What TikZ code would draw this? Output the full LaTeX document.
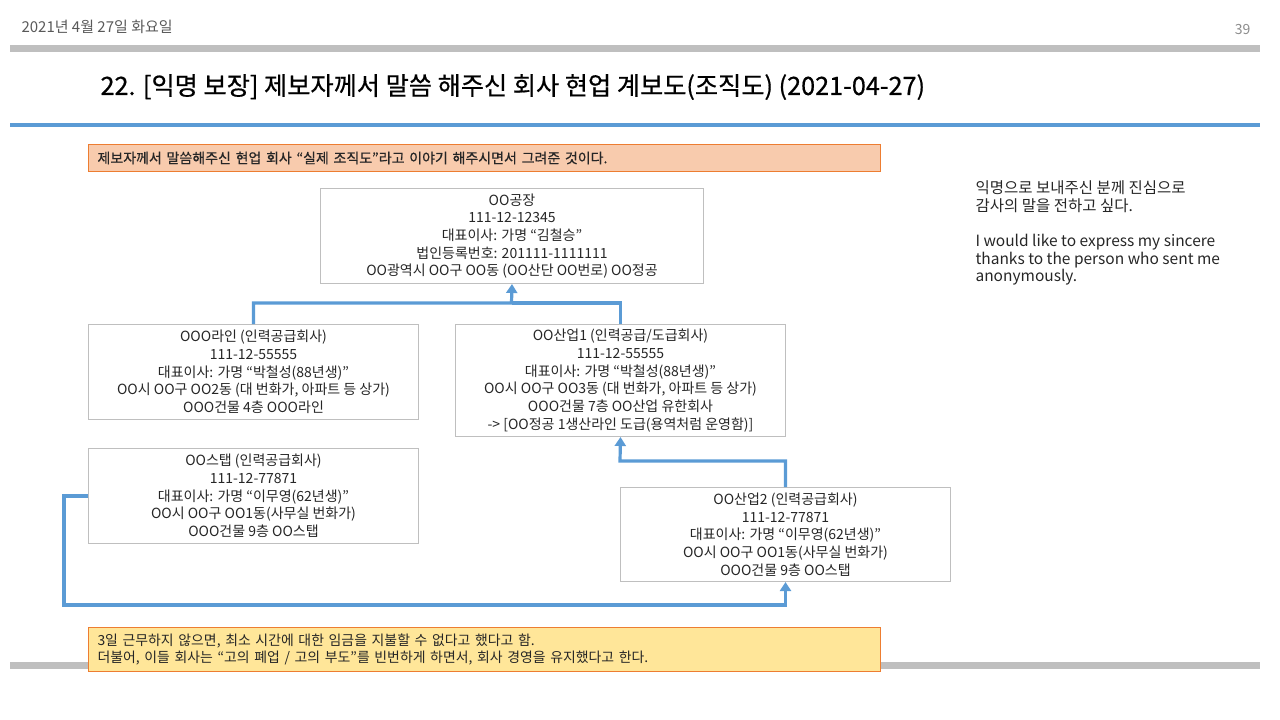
\documentclass[tikz,border=0pt]{standalone}
\usepackage{fontspec}
\setmainfont{Noto Sans CJK KR}
\newfontfamily\krmed[FakeBold=0.6]{Noto Sans CJK KR}
\usetikzlibrary{arrows.meta,positioning}
\definecolor{barblue}{HTML}{5B9BD5}
\definecolor{bargray}{HTML}{BFBFBF}
\definecolor{peach}{HTML}{F8CBAD}
\definecolor{ember}{HTML}{ED7D31}
\definecolor{butter}{HTML}{FFE699}
\definecolor{ink}{HTML}{262626}

\begin{document}
\begin{tikzpicture}[
      x=1pt, y=-1pt,
      corp/.style={rectangle, draw=bargray, line width=1pt, fill=white,
                   text=ink, minimum width=330pt, minimum height=95pt,
                   inner sep=0pt, anchor=north west, align=center,
                   font=\fontsize{14}{17.7}\selectfont},
      memo/.style={rectangle, draw=ember, line width=1pt, anchor=north west,
                   text width=774pt, inner xsep=9pt, align=left, text=ink},
      link/.style={-{Triangle[width=11pt,length=9pt]}, line width=3.2pt, color=barblue},
      wire/.style={line width=3.2pt, color=barblue}
    ]
      \useasboundingbox (0,0) rectangle (1280,720);
      % header
      \node[anchor=west, text=black!65, font=\fontsize{15}{17}\selectfont] (date) at (18,27) {2021년 4월 27일 화요일};
      \node[anchor=east, text=black!45, font=\fontsize{14}{16}\selectfont] (page) at (1254,30) {39};
      \fill[bargray] (10,45) rectangle (1260,52);
      \node[anchor=west, text=black, font=\krmed\fontsize{25.2}{29}\selectfont] (title) at (97,87)
        {22. [익명 보장] 제보자께서 말씀 해주신 회사 현업 계보도(조직도) (2021-04-27)};
      \fill[barblue] (10,123) rectangle (1260,127);
      \fill[bargray] (10,662) rectangle (1260,669);

      % notes
      \node[memo, fill=peach, minimum height=27pt, font=\krmed\fontsize{14}{17}\selectfont] (intro) at (88,144)
        {제보자께서 말씀해주신 현업 회사 “실제 조직도”라고 이야기 해주시면서 그려준 것이다.};
      \node[memo, fill=butter, minimum height=44pt, font=\fontsize{13.9}{17}\selectfont] (outro) at (88,627)
        {3일 근무하지 않으면, 최소 시간에 대한 임금을 지불할 수 없다고 했다고 함.\\
         더불어, 이들 회사는 “고의 폐업 / 고의 부도”를 빈번하게 하면서, 회사 경영을 유지했다고 한다.};
      \node[anchor=north west, align=left, text=ink, font=\fontsize{15.5}{17.7}\selectfont] (thanks) at (972,177)
        {익명으로 보내주신 분께 진심으로\\ 감사의 말을 전하고 싶다.\\[17.7pt]
         I would like to express my sincere\\ thanks to the person who sent me\\ anonymously.};

      % companies
      \node[corp, minimum width=383pt] (factory) at (320,188)
        {OO공장\\ 111-12-12345\\ 대표이사: 가명 “김철승”\\ 법인등록번호: 201111-1111111\\
         OO광역시 OO구 OO동 (OO산단 OO번로) OO정공};
      \node[corp] (line) at (88,324)
        {OOO라인 (인력공급회사)\\ 111-12-55555\\ 대표이사: 가명 “박철성(88년생)”\\
         OO시 OO구 OO2동 (대 번화가, 아파트 등 상가)\\ OOO건물 4층 OOO라인};
      \node[corp, minimum height=112pt] (biz1) at (455,324)
        {OO산업1 (인력공급/도급회사)\\ 111-12-55555\\ 대표이사: 가명 “박철성(88년생)”\\
         OO시 OO구 OO3동 (대 번화가, 아파트 등 상가)\\ OOO건물 7층 OO산업 유한회사\\
         -> [OO정공 1생산라인 도급(용역처럼 운영함)]};
      \node[corp] (staff) at (88,448)
        {OO스탭 (인력공급회사)\\ 111-12-77871\\ 대표이사: 가명 “이무영(62년생)”\\
         OO시 OO구 OO1동(사무실 번화가)\\ OOO건물 9층 OO스탭};
      \node[corp, minimum height=94pt] (biz2) at (620,487)
        {OO산업2 (인력공급회사)\\ 111-12-77871\\ 대표이사: 가명 “이무영(62년생)”\\
         OO시 OO구 OO1동(사무실 번화가)\\ OOO건물 9층 OO스탭};

      % links
      \coordinate (j1) at (511.5,303);
      \coordinate (j2) at (620,461);
      \coordinate (j3) at (64,605);
      \draw[wire] (biz1.north) |- (j1);
      \draw[link] (line.north) |- (j1) -- (factory.south);
      \draw[link] (biz2.north) |- (j2) -- (biz1.south);
      \draw[link] (staff.west) -| (j3) -| (biz2.south);
    \end{tikzpicture}
\end{document}
